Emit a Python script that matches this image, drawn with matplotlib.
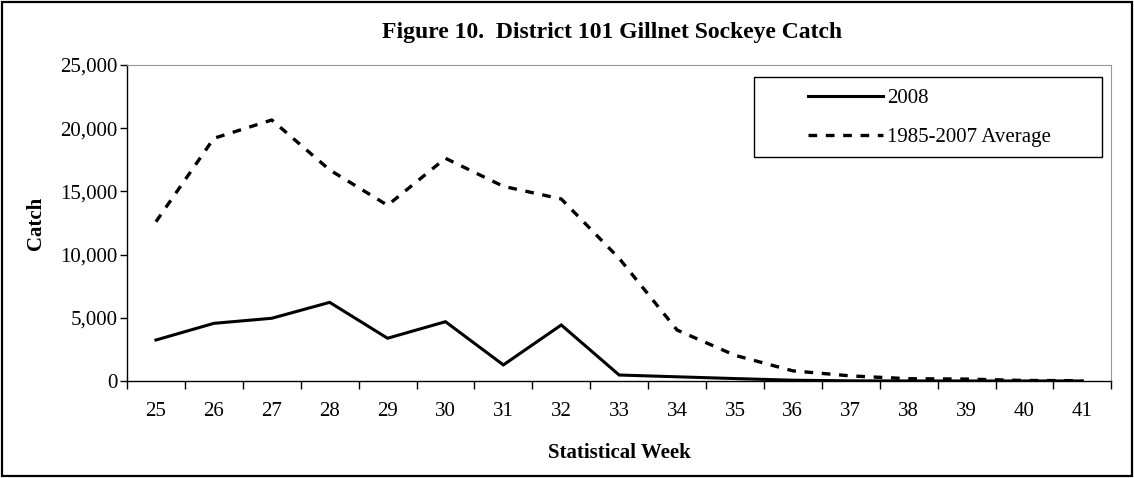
import matplotlib
matplotlib.use("Agg")
import matplotlib.pyplot as plt
import matplotlib.ticker as mticker
from matplotlib.patches import Rectangle

# ── Data ─────────────────────────────────────────────────────────────────────
weeks = [25, 26, 27, 28, 29, 30, 31, 32, 33, 34, 35, 36, 37, 38, 39, 40, 41]
catch_2008 = [3240, 4560, 4960, 6220, 3380, 4690, 1270, 4430, 470,
              330, 190, 60, 10, 0, 0, 0, 0]
catch_avg = [12600, 19200, 20650, 16700, 13900, 17620, 15400, 14400, 9700,
             4030, 2030, 800, 400, 180, 150, 40, 20]
y_ticks = [0, 5000, 10000, 15000, 20000, 25000]

plt.rcParams["font.family"] = ["Liberation Serif", "DejaVu Serif"]

fig = plt.figure(figsize=(11.34, 4.78), dpi=100)
fig.patch.set_facecolor("white")
ax = fig.add_axes([0.112, 0.203, 0.868, 0.661])

x = list(range(len(weeks)))
ax.plot(x, catch_2008, color="black", linewidth=2.2, label="2008",
        solid_joinstyle="miter")
ax.plot(x, catch_avg, color="black", linewidth=2.4,
        linestyle=(0, (2.6, 2.6)), label="1985-2007 Average")

# ── Axes ─────────────────────────────────────────────────────────────────────
ax.set_xlim(-0.5, len(weeks) - 0.5)
ax.set_ylim(0, 25000)
ax.set_yticks(y_ticks)
ax.yaxis.set_major_formatter(mticker.FuncFormatter(lambda v, p: f"{int(v):,}"))
ax.set_xticks(x)
ax.set_xticklabels([str(w) for w in weeks])
ax.set_xticks([i - 0.5 for i in range(len(weeks) + 1)], minor=True)
ax.tick_params(axis="x", which="major", length=0, pad=15, labelsize=15)
ax.tick_params(axis="x", which="minor", length=6, width=1, color="black")
ax.tick_params(axis="y", length=5, width=1, pad=2, labelsize=15)

ax.spines["left"].set_color("black")
ax.spines["bottom"].set_color("black")
ax.spines["left"].set_linewidth(1.0)
ax.spines["bottom"].set_linewidth(1.0)
ax.spines["top"].set_color("#999999")
ax.spines["right"].set_color("#999999")

ax.set_ylabel("Catch", fontsize=15, fontweight="bold", labelpad=10)
ax.set_xlabel("Statistical Week", fontsize=15, fontweight="bold", labelpad=16)

# legend: entries centred inside a separately drawn box
ax.add_patch(Rectangle((0.637, 0.709), 0.354, 0.253, transform=ax.transAxes,
                       fill=False, edgecolor="black", linewidth=1.0, zorder=5))
leg = ax.legend(loc="upper left", bbox_to_anchor=(0.680, 0.962), fontsize=15,
                handlelength=3.6, handletextpad=0.2, labelspacing=0.95,
                borderpad=0.55, borderaxespad=0, frameon=False)

fig.text(0.54, 0.933, "Figure 10.  District 101 Gillnet Sockeye Catch",
         ha="center", va="center", fontsize=17, fontweight="bold")

# outer chart border
fig.patches.append(Rectangle((0.002, 0.004), 0.996, 0.992, transform=fig.transFigure,
                             fill=False, edgecolor="black", linewidth=1.6))

fig.savefig("out.png", dpi=100, facecolor="white")
plt.close(fig)
